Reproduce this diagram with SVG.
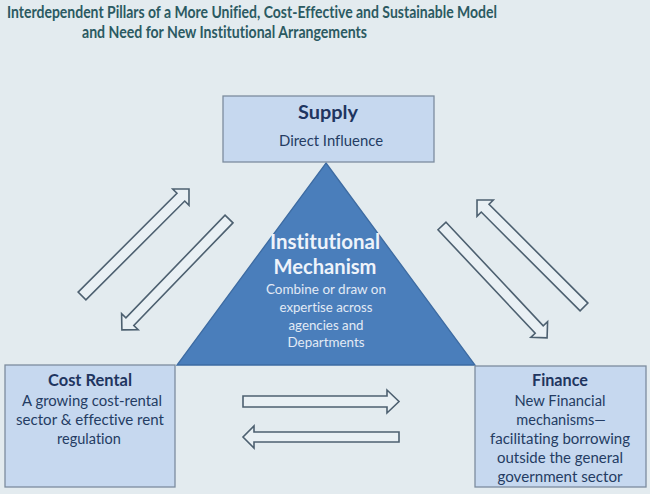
<svg xmlns="http://www.w3.org/2000/svg" width="650" height="494" viewBox="0 0 650 494">
<style>
text{font-family:Lato,"Open Sans","Liberation Sans",sans-serif;text-anchor:middle;font-variant-ligatures:none}
.title{font-size:17px;font-weight:bold;fill:#2b5a62;text-anchor:start}
.box{fill:#c6d8ef;stroke:#7d8d9e;stroke-width:1.3}
.h{font-size:17px;font-weight:bold;fill:#1f3560}
.b{font-size:14.5px;fill:#243c63}
.th{font-size:21px;font-weight:bold;fill:#eef3fa}
.tb{font-size:13.5px;fill:#e2eaf5}
.arr{fill:#e9f0f4;stroke:#4d6070;stroke-width:1.6;stroke-linejoin:miter}
</style>
<rect width="650" height="494" fill="#e3ebef"/>
<g id="title">
<text class="title" x="7" y="18" textLength="490" lengthAdjust="spacingAndGlyphs">Interdependent Pillars of a More Unified, Cost-Effective and Sustainable Model</text>
<text class="title" x="82" y="38" textLength="285" lengthAdjust="spacingAndGlyphs">and Need for New Institutional Arrangements</text>
</g>
<g id="connectors">
<polygon class="arr" transform="translate(82,296) rotate(-45)" points="0,-5.5 139.8,-5.5 139.8,-11.5 151.3,0 139.8,11.5 139.8,5.5 0,5.5"/>
<polygon class="arr" transform="translate(229,219) rotate(134)" points="0,-5.5 142.7,-5.5 142.7,-11.5 154.2,0 142.7,11.5 142.7,5.5 0,5.5"/>
<polygon class="arr" transform="translate(584,307) rotate(-135)" points="0,-5.5 139.8,-5.5 139.8,-11.5 151.3,0 139.8,11.5 139.8,5.5 0,5.5"/>
<polygon class="arr" transform="translate(442,226) rotate(46.8)" points="0,-5.5 142,-5.5 142,-11.5 153.5,0 142,11.5 142,5.5 0,5.5"/>
<polygon class="arr" points="243,396 387,396 387,390 399,401.5 387,413 387,407 243,407"/>
<polygon class="arr" points="399,432 254,432 254,426 243,437 254,448 254,442 399,442"/>
</g>
<g id="institutional-mechanism">
<polygon points="326,163 475,365 177,365" fill="#4a7ebb" stroke="#3d6ba2" stroke-width="1.3"/>
<text class="th" x="325" y="249" textLength="110" lengthAdjust="spacingAndGlyphs">Institutional</text>
<text class="th" x="325" y="274" textLength="103" lengthAdjust="spacingAndGlyphs">Mechanism</text>
<text class="tb" x="326" y="294" textLength="120" lengthAdjust="spacingAndGlyphs">Combine or draw on</text>
<text class="tb" x="326" y="312" textLength="93" lengthAdjust="spacingAndGlyphs">expertise across</text>
<text class="tb" x="326" y="330" textLength="75" lengthAdjust="spacingAndGlyphs">agencies and</text>
<text class="tb" x="326" y="347" textLength="77" lengthAdjust="spacingAndGlyphs">Departments</text>
</g>
<g id="supply">
<rect class="box" x="223" y="96" width="211" height="66"/>
<text class="h" x="328" y="119" style="font-size:19px" textLength="60" lengthAdjust="spacingAndGlyphs">Supply</text>
<text class="b" x="331" y="146" textLength="104" lengthAdjust="spacingAndGlyphs">Direct Influence</text>
</g>
<g id="cost-rental">
<rect class="box" x="5" y="365" width="170" height="122"/>
<text class="h" x="90" y="386" textLength="84" lengthAdjust="spacingAndGlyphs">Cost Rental</text>
<text class="b" x="92" y="406" textLength="140" lengthAdjust="spacingAndGlyphs">A growing cost-rental</text>
<text class="b" x="90" y="425" textLength="148" lengthAdjust="spacingAndGlyphs">sector &amp; effective rent</text>
<text class="b" x="89" y="444">regulation</text>
</g>
<g id="finance">
<rect class="box" x="475" y="366" width="171" height="121"/>
<text class="h" x="560" y="386" textLength="56" lengthAdjust="spacingAndGlyphs">Finance</text>
<text class="b" x="560" y="406" textLength="91" lengthAdjust="spacingAndGlyphs">New Financial</text>
<text class="b" x="561" y="425">mechanisms—</text>
<text class="b" x="560" y="444" textLength="140" lengthAdjust="spacingAndGlyphs">facilitating borrowing</text>
<text class="b" x="560" y="463" textLength="126" lengthAdjust="spacingAndGlyphs">outside the general</text>
<text class="b" x="560" y="482" textLength="125" lengthAdjust="spacingAndGlyphs">government sector</text>
</g>
</svg>
